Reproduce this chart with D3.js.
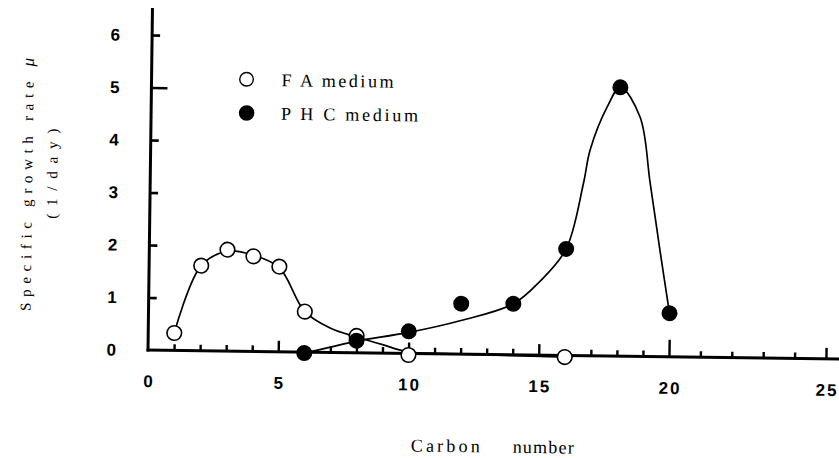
<!DOCTYPE html>
<html>
<head>
<meta charset="utf-8">
<script src="https://cdn.jsdelivr.net/npm/d3@7"></script>
<style>
  html, body { margin: 0; padding: 0; background: #fff; }
  svg { display: block; }
</style>
</head>
<body>
<svg id="chart" width="839" height="458"></svg>
<script>
// Specific growth rate (1/day) against carbon number of the substrate
const faCarbon = [1, 2, 3, 4, 5, 6, 8, 10, 16];
const faRate   = [0.33, 1.62, 1.93, 1.81, 1.62, 0.77, 0.32, -0.03, -0.03];

const phcCarbon = [6, 8, 10, 12, 14, 16, 18, 20];
const phcRate   = [-0.02, 0.23, 0.42, 0.96, 0.97, 2.03, 5.12, 0.83];

// Hand-fitted trend curves through the measurements
const faFitCarbon = [1, 2, 3, 4, 5, 6, 7, 8, 9, 10, 12, 16];
const faFitRate   = [0.33, 1.62, 1.9, 1.83, 1.6, 0.77, 0.46, 0.3, 0.16, 0.03, 0.0, -0.03];

const phcFitCarbon = [6, 7, 8, 10, 12, 14, 15, 16, 16.63, 16.87, 17.5, 18, 18.77, 19.19, 19.6, 20];
const phcFitRate   = [-0.02, 0.1, 0.22, 0.4, 0.64, 0.97, 1.4, 2.03, 3.28, 3.92, 4.74, 5.12, 4.56, 3.31, 2.03, 0.83];

// Axis ticks and labels
const xTicks = d3.range(0, 26);
const xTickLabels = [0, 5, 10, 15, 20, 25];
const yTicks = [0, 1, 2, 3, 4, 5, 6];

const legendLabels = ["F A medium", "P H C medium"];
const xTitleWords = ["Carbon", "number"];
const yTitle = "Specific growth rate ";
const yTitleSymbol = "\u03bc";
const yUnit = "(1/day)";

const svg = d3.select("#chart");
svg.append("rect").attr("width", 839).attr("height", 458).attr("fill", "#fff");

// the whole sheet sits very slightly askew
const g = svg.append("g").attr("transform", "rotate(0.75,148,350)");

const x = d3.scaleLinear().domain([0, 20, 25]).range([148, 669, 826]);
const y = d3.scaleLinear().domain([0, 6]).range([350, 35]);

const sans = "'Liberation Sans', Arial, sans-serif";
const serif = "'Liberation Serif', 'DejaVu Serif', serif";

// ---- y axis ----
const yAxis = g.append("g")
  .attr("transform", `translate(${x(0)},0)`)
  .call(d3.axisLeft(y).tickValues(yTicks).tickFormat(d3.format("d"))
    .tickSize(-7).tickPadding(32));
yAxis.select(".domain").remove();
yAxis.selectAll(".tick line")
  .attr("stroke", "#000").attr("stroke-width", 2.6)
  .attr("x2", d => d === 5 ? 16 : 8);
yAxis.selectAll(".tick text")
  .attr("font-family", sans)
  .attr("font-weight", "bold").attr("font-size", 17).attr("fill", "#000");
yAxis.selectAll(".tick").filter(d => d === 0).select("line").remove();
g.append("line")
  .attr("x1", x(0)).attr("x2", x(0))
  .attr("y1", 8).attr("y2", y(0) + 1.5)
  .attr("stroke", "#000").attr("stroke-width", 3);

// ---- x axis ----
const xAxis = g.append("g")
  .attr("transform", `translate(0,${y(0)})`)
  .call(d3.axisBottom(x).tickValues(xTicks).tickSize(-5).tickPadding(25)
    .tickFormat(d => xTickLabels.includes(d) ? d : ""));
xAxis.select(".domain").remove();
xAxis.selectAll(".tick line")
  .attr("stroke", "#000").attr("stroke-width", 2.4)
  .attr("y2", d => d === 0 ? 0 : d === 20 ? -17 : d % 5 === 0 ? -11 : -6);
xAxis.selectAll(".tick text")
  .attr("font-family", sans)
  .attr("font-weight", "bold").attr("font-size", 17).attr("fill", "#000")
  .attr("letter-spacing", 2).attr("dx", 1);
g.append("line")
  .attr("x1", x(0) - 1.5).attr("x2", 840)
  .attr("y1", y(0)).attr("y2", y(0))
  .attr("stroke", "#000").attr("stroke-width", 3);

// ---- trend curves ----
const line = d3.line()
  .x(d => x(d[0])).y(d => y(d[1]))
  .curve(d3.curveCatmullRom.alpha(0.5));

g.append("path")
  .datum(d3.zip(faFitCarbon, faFitRate))
  .attr("d", line).attr("fill", "none")
  .attr("stroke", "#000").attr("stroke-width", 1.7);

g.append("path")
  .datum(d3.zip(phcFitCarbon, phcFitRate))
  .attr("d", line).attr("fill", "none")
  .attr("stroke", "#000").attr("stroke-width", 1.7);

// ---- markers ----
g.append("g").selectAll("circle")
  .data(d3.zip(faCarbon, faRate)).join("circle")
  .attr("cx", d => x(d[0])).attr("cy", d => y(d[1])).attr("r", 7.3)
  .attr("fill", "#fff").attr("stroke", "#000").attr("stroke-width", 1.6);

g.append("g").selectAll("circle")
  .data(d3.zip(phcCarbon, phcRate)).join("circle")
  .attr("cx", d => x(d[0])).attr("cy", d => y(d[1])).attr("r", 8)
  .attr("fill", "#000");

// ---- legend ----
const legend = g.append("g");
legend.append("circle").attr("cx", 243).attr("cy", 78).attr("r", 6.8)
  .attr("fill", "#fff").attr("stroke", "#000").attr("stroke-width", 1.4);
legend.append("circle").attr("cx", 243.5).attr("cy", 111.7).attr("r", 7.8)
  .attr("fill", "#000");
legend.append("text").attr("x", 278).attr("y", 84.5)
  .attr("font-family", serif).attr("font-size", 18)
  .attr("textLength", 112).attr("lengthAdjust", "spacing")
  .text(legendLabels[0]);
legend.append("text").attr("x", 278).attr("y", 118)
  .attr("font-family", serif).attr("font-size", 18)
  .attr("textLength", 137).attr("lengthAdjust", "spacing")
  .text(legendLabels[1]);

// ---- axis titles ----
g.append("text").attr("x", 412).attr("y", 448)
  .attr("font-family", serif).attr("font-size", 18)
  .attr("textLength", 69).attr("lengthAdjust", "spacing")
  .text(xTitleWords[0]);
g.append("text").attr("x", 514).attr("y", 448)
  .attr("font-family", serif).attr("font-size", 18)
  .attr("textLength", 61).attr("lengthAdjust", "spacing")
  .text(xTitleWords[1]);

const yt = g.append("text")
  .attr("transform", "translate(30,186) rotate(-90)")
  .attr("text-anchor", "middle")
  .attr("font-family", serif).attr("font-size", 15)
  .attr("textLength", 253).attr("lengthAdjust", "spacing");
yt.append("tspan").text(yTitle);
yt.append("tspan").attr("font-style", "italic").attr("font-size", 17).text(yTitleSymbol);

g.append("text")
  .attr("transform", "translate(55,175) rotate(-90)")
  .attr("text-anchor", "middle")
  .attr("font-family", serif).attr("font-size", 15)
  .attr("textLength", 90).attr("lengthAdjust", "spacing")
  .text(yUnit);
</script>
</body>
</html>
